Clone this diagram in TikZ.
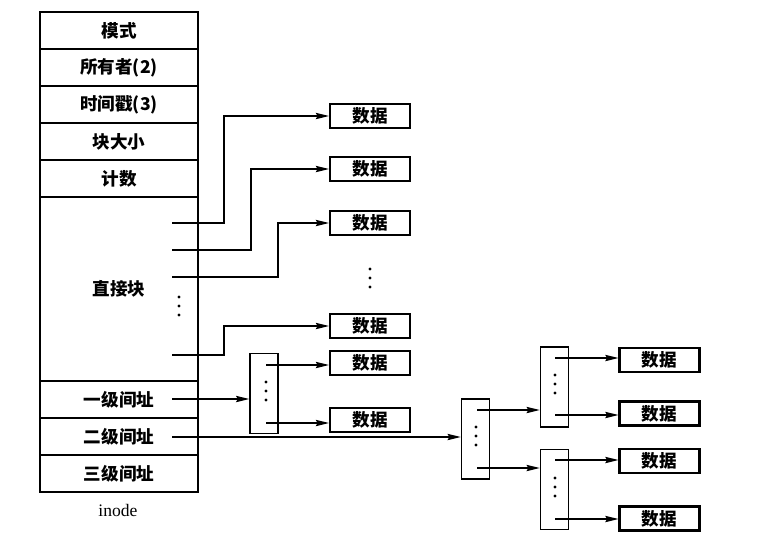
\documentclass[tikz,border=0pt]{standalone}
\usepackage{tikz}
\usepackage{fontspec}
\setmainfont{Liberation Serif}
\newfontfamily\cjk{Noto Sans CJK SC}
\usetikzlibrary{arrows.meta}
\tikzstyle{cell} = [rectangle, draw=black, line width=1.1pt, minimum width=3.16cm, minimum height=0.74cm, inner sep=1pt, text centered, font=\cjk\bfseries\fontsize{10}{12}\selectfont]
\tikzstyle{datablock} = [rectangle, draw=black, line width=1.2pt, minimum width=1.6cm, minimum height=0.48cm, inner sep=1pt, text centered, font=\cjk\bfseries\fontsize{10}{12}\selectfont]
\tikzstyle{index} = [rectangle, draw=black, line width=0.9pt, minimum width=0.56cm, minimum height=1.6cm, inner sep=0pt]
\tikzstyle{arrow} = [line width=0.7pt,->,>={Stealth[length=7.5pt,width=3.6pt,inset=1pt]}]
\newcommand{\dotcol}[1]{\fill (#1) ++(0,-9) circle (0.9pt) ++(0,9) circle (0.9pt) ++(0,9) circle (0.9pt);}
\begin{document}
\begin{tikzpicture}[x=0.02cm, y=-0.02cm]
    \useasboundingbox (0,0) rectangle (757,552);
    % inode
    \node (mode) [cell] at (119,30.5) {模式};
    \node (owner) [cell] at (119,67.5) {所有者(2)};
    \node (stamp) [cell] at (119,104.5) {时间戳(3)};
    \node (size) [cell] at (119,141.5) {块大小};
    \node (count) [cell] at (119,178.5) {计数};
    \node (direct) [cell, minimum height=3.68cm] at (119,289) {直接块};
    \node (single) [cell] at (119,399.5) {一级间址};
    \node (double) [cell] at (119,436.5) {二级间址};
    \node (triple) [cell] at (119,473.5) {三级间址};
    \node (inode) at (118,510) {inode};
    \dotcol{179,306}

    % data blocks
    \node (data1) [datablock] at (370,116) {数据};
    \node (data2) [datablock] at (370,169) {数据};
    \node (data3) [datablock] at (370,223) {数据};
    \node (data4) [datablock] at (370,326) {数据};
    \node (data5) [datablock] at (370,363) {数据};
    \node (data6) [datablock] at (370,420) {数据};
    \node (r1) [datablock] at (659.5,360) {数据};
    \node (r2) [datablock] at (659.5,413.5) {数据};
    \node (r3) [datablock] at (659.5,461) {数据};
    \node (r4) [datablock] at (659.5,518.5) {数据};
    \dotcol{370,278}

    % index blocks
    \node (ind1) [index] at (264,393.5) {};
    \node (ind2) [index] at (475.5,439) {};
    \node (ind3a) [index] at (554.5,387) {};
    \node (ind3b) [index] at (554.5,489.5) {};
    \dotcol{266,391}
    \dotcol{476,436}
    \dotcol{555,384}
    \dotcol{555,487}

    \coordinate (d1) at (172,223);
    \coordinate (d2) at (172,250);
    \coordinate (d3) at (172,277);
    \coordinate (d4) at (172,355);
    \coordinate (l1) at (172,399);
    \coordinate (l2) at (172,437);
    \coordinate (i1a) at (266,365);
    \coordinate (i1b) at (266,423);
    \coordinate (i2a) at (477,410);
    \coordinate (i2b) at (477,468);
    \coordinate (i3a) at (555,358);
    \coordinate (i3b) at (555,415);
    \coordinate (i3c) at (555,460);
    \coordinate (i3d) at (555,519);

    \draw [arrow] (d1) -- ++(52,0) |- (data1);
    \draw [arrow] (d2) -- ++(79,0) |- (data2);
    \draw [arrow] (d3) -- ++(106,0) |- (data3);
    \draw [arrow] (d4) -- ++(52,0) |- (data4);
    \draw [arrow] (l1) -- (l1 -| ind1.west);
    \draw [arrow] (l2) -- (l2 -| ind2.west);
    \draw [arrow] (i1a) -- (i1a -| data5.west);
    \draw [arrow] (i1b) -- (i1b -| data6.west);
    \draw [arrow] (i2a) -- (i2a -| ind3a.west);
    \draw [arrow] (i2b) -- (i2b -| ind3b.west);
    \draw [arrow] (i3a) -- (i3a -| r1.west);
    \draw [arrow] (i3b) -- (i3b -| r2.west);
    \draw [arrow] (i3c) -- (i3c -| r3.west);
    \draw [arrow] (i3d) -- (i3d -| r4.west);
\end{tikzpicture}
\end{document}
